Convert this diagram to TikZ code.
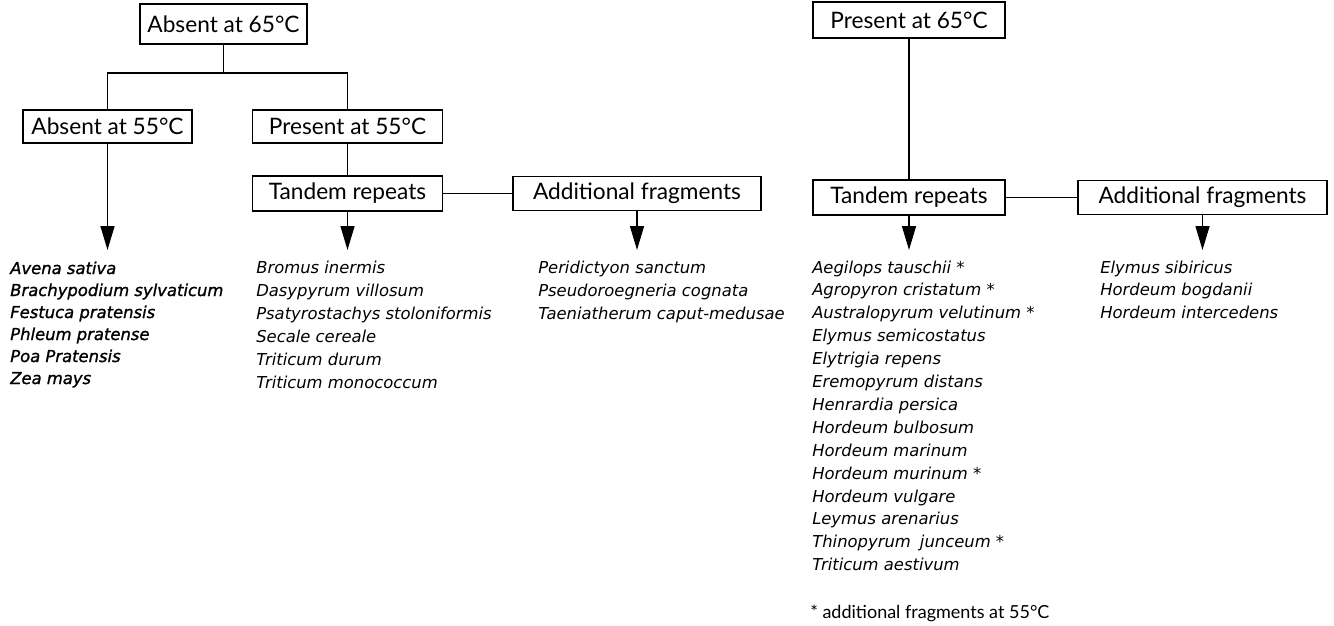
\documentclass[tikz,border=0pt]{standalone}
\usepackage{fontspec}
\setmainfont{Lato}
\newfontfamily\listfont{DejaVu Sans}
\newfontfamily\listfontb[FakeBold=1.2]{DejaVu Sans}
\usetikzlibrary{arrows.meta}
\tikzset{
  box/.style={draw, line width=1.15pt, inner sep=0pt, font=\fontsize{17}{20}\selectfont},
  conn/.style={line width=1.1pt},
  arr/.style={line width=1.1pt, -{Triangle[length=18pt,width=10.5pt]}},
  item/.style={anchor=base west, inner sep=0pt, font=\listfont\itshape\fontsize{12.3}{15}\selectfont},
  itemb/.style={anchor=base west, inner sep=0pt, font=\listfontb\itshape\fontsize{12.3}{15}\selectfont},
  note/.style={anchor=base west, inner sep=0pt, font=\fontsize{13.5}{16}\selectfont},
}
\begin{document}
\begin{tikzpicture}[x=0.75pt,y=-0.75pt]
\useasboundingbox (0,0) rectangle (1334,625);
% boxes
\node[box, minimum width=125.25pt, minimum height=30pt] (a65) at (223.5,24) {Absent at 65°C};
\node[box, minimum width=126.75pt, minimum height=24.75pt] (a55) at (107.5,126.5) {Absent at 55°C};
\node[box, minimum width=142.5pt, minimum height=24.75pt] (p55) at (347.5,126.5) {Present at 55°C};
\node[box, minimum width=142.5pt, minimum height=26.25pt] (tL) at (347.5,193.5) {Tandem repeats};
\node[box, minimum width=186pt, minimum height=25.5pt] (fM) at (637,193.5) {Additional fragments};
\node[box, minimum width=144pt, minimum height=27pt] (p65) at (909,20) {Present at 65°C};
\node[box, minimum width=144pt, minimum height=26.25pt] (tR) at (909,197.5) {Tandem repeats};
\node[box, minimum width=186.75pt, minimum height=25.5pt] (fR) at (1202.5,197.5) {Additional fragments};
% connectors
\coordinate (j) at (223.5,73);
\coordinate (ar) at (0,250);
\draw[conn] (a65.south) -- (j);
\draw[conn] (a55.north) -- (a55.north |- j) -- (p55.north |- j) -- (p55.north);
\draw[conn] (p55.south) -- (tL.north);
\draw[conn] (tL.east) -- (fM.west);
\draw[conn] (p65.south) -- (tR.north);
\draw[conn] (tR.east) -- (fR.west);
\draw[arr] (a55.south) -- (a55.south |- ar);
\draw[arr] (tL.south) -- (tL.south |- ar);
\draw[arr] (fM.south) -- (fM.south |- ar);
\draw[arr] (tR.south) -- (tR.south |- ar);
\draw[arr] (fR.south) -- (fR.south |- ar);
% lists
\foreach \t [count=\i from 0] in {Avena sativa, Brachypodium sylvaticum, Festuca pratensis, Phleum pratense, Poa Pratensis, Zea mays}
  \node[itemb] (la\i) at (10,274+22*\i) {\t};
\foreach \t [count=\i from 0] in {Bromus inermis, Dasypyrum villosum, Psatyrostachys stoloniformis, Secale cereale, Triticum durum, Triticum monococcum}
  \node[item] (lb\i) at (256,273+23*\i) {\t};
\foreach \t [count=\i from 0] in {Peridictyon sanctum, Pseudoroegneria cognata, Taeniatherum caput-medusae}
  \node[item] (lc\i) at (538,273+23*\i) {\t};
\foreach \t [count=\i from 0] in {Aegilops tauschii *, Agropyron cristatum *, Australopyrum velutinum *, Elymus semicostatus, Elytrigia repens, Eremopyrum distans, Henrardia persica, Hordeum bulbosum, Hordeum marinum, Hordeum murinum *, Hordeum vulgare, Leymus arenarius, {Thinopyrum\hspace{0.55em}junceum *}, Triticum aestivum}
  \node[item] (ld\i) at (812,273+22.9*\i) {\t};
\foreach \t [count=\i from 0] in {Elymus sibiricus, Hordeum bogdanii, Hordeum intercedens}
  \node[item] (le\i) at (1100,273+22.9*\i) {\t};
\node[note] (fn) at (810,618) {* additional fragments at 55°C};
\end{tikzpicture}
\end{document}
